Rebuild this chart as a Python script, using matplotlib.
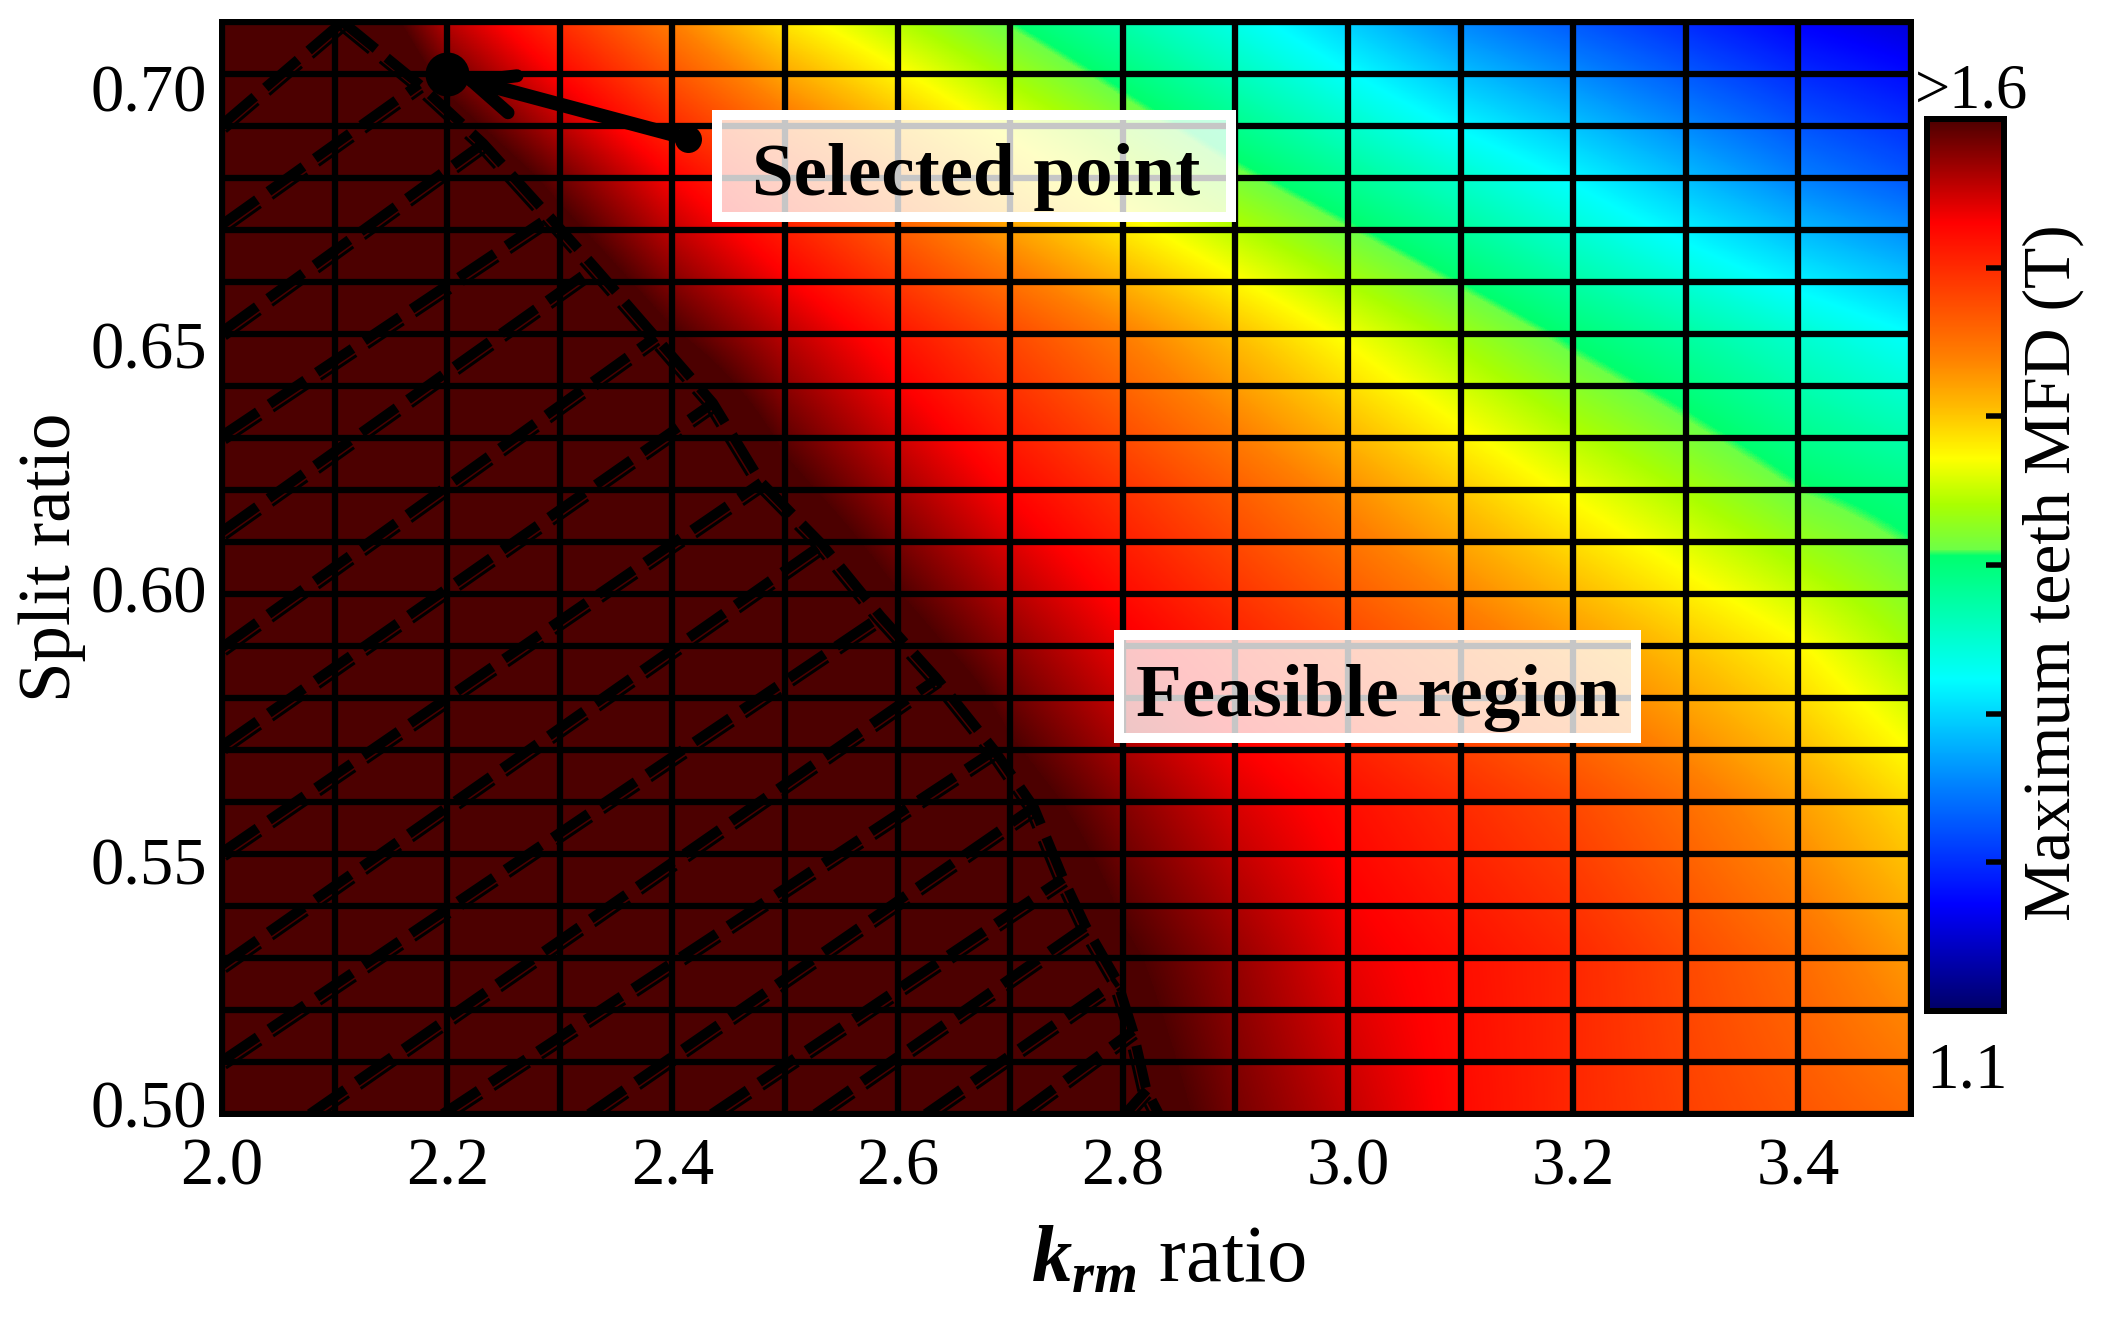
import numpy as np
import matplotlib
matplotlib.use("Agg")
import matplotlib.pyplot as plt
from matplotlib.colors import LinearSegmentedColormap
from matplotlib.patches import Rectangle
from matplotlib.transforms import offset_copy, ScaledTranslation

W, H = 2106, 1317
plt.rcParams['font.family'] = ['Liberation Serif', 'DejaVu Serif']
plt.rcParams['mathtext.fontset'] = 'custom'
plt.rcParams['mathtext.it'] = 'Liberation Serif:italic:bold'
plt.rcParams['mathtext.rm'] = 'Liberation Serif'
plt.rcParams['lines.scale_dashes'] = False

# ---- data ----
krm = [2.0, 2.1, 2.2, 2.3, 2.4, 2.5, 2.6, 2.7, 2.8, 2.9, 3.0, 3.1, 3.2, 3.3, 3.4, 3.5]
split = [0.71, 0.68, 0.65, 0.62, 0.59, 0.56, 0.53, 0.50]
mfd_071 = [1.775, 1.65, 1.565, 1.515, 1.4675, 1.42, 1.387, 1.3565, 1.3265, 1.296, 1.2635, 1.23, 1.206, 1.182, 1.1595, 1.145]
mfd_068 = [1.75, 1.70, 1.64, 1.59, 1.543, 1.505, 1.4665, 1.428, 1.3945, 1.364, 1.337, 1.3105, 1.284, 1.2555, 1.227, 1.205]
mfd_065 = [1.80, 1.75, 1.70, 1.65, 1.6025, 1.565, 1.5305, 1.4995, 1.4685, 1.4375, 1.407, 1.379, 1.352, 1.3305, 1.3085, 1.287]
mfd_062 = [1.85, 1.81, 1.77, 1.72, 1.675, 1.61, 1.573, 1.5405, 1.5135, 1.487, 1.4605, 1.4335, 1.4075, 1.3835, 1.359, 1.345]
mfd_059 = [1.90, 1.85, 1.80, 1.75, 1.70, 1.66, 1.615, 1.58, 1.549, 1.525, 1.5025, 1.4805, 1.458, 1.4355, 1.413, 1.3825]
mfd_056 = [1.95, 1.91, 1.875, 1.825, 1.775, 1.725, 1.675, 1.615, 1.5825, 1.555, 1.535, 1.5175, 1.50, 1.4775, 1.4525, 1.425]
mfd_053 = [2.0, 1.95, 1.90, 1.85, 1.80, 1.75, 1.70, 1.65, 1.605, 1.5775, 1.55, 1.535, 1.52, 1.50, 1.48, 1.455]
mfd_050 = [2.05, 2.0, 1.95, 1.90, 1.85, 1.80, 1.75, 1.70, 1.62, 1.5875, 1.5625, 1.5375, 1.52, 1.505, 1.4925, 1.48]

xticks = [2.0, 2.2, 2.4, 2.6, 2.8, 3.0, 3.2, 3.4]
yticks = [0.50, 0.55, 0.60, 0.65, 0.70]

# feasible-region boundary
bound_x = [2.107, 2.175, 2.232, 2.291, 2.331, 2.385, 2.436, 2.479, 2.533, 2.585, 2.635, 2.686, 2.721, 2.747, 2.767, 2.795, 2.809, 2.821, 2.832]
bound_y = [0.7100, 0.6980, 0.6866, 0.6725, 0.6628, 0.6494, 0.6367, 0.6214, 0.6095, 0.5957, 0.5837, 0.5699, 0.5590, 0.5453, 0.5361, 0.5256, 0.5160, 0.5046, 0.5000]
# hatch lines: start of each, running to one boundary vertex
hatch_x0 = [2.0, 2.0, 2.0, 2.0, 2.0, 2.0, 2.0, 2.0, 2.0, 2.0, 2.078, 2.196, 2.326, 2.435, 2.527, 2.625, 2.708, 2.802]
hatch_y0 = [0.6902, 0.6710, 0.6504, 0.6304, 0.6120, 0.5897, 0.5708, 0.5503, 0.5287, 0.5102, 0.5, 0.5, 0.5, 0.5, 0.5, 0.5, 0.5, 0.5]
hatch_end = [0, 1, 2, 3, 4, 5, 6, 7, 8, 9, 10, 11, 12, 13, 14, 15, 16, 17]

selected = (2.2, 0.70)
arrow_tail = (2.414, 0.6875)
arrow_tip = (2.222, 0.6986)
arrow_barb1 = (2.262, 0.6996)
arrow_barb2 = (2.254, 0.6925)

vmin, vmax = 1.1, 1.6
cmap_stops = [
    (0.000, '#000064'), (0.122, '#0000ff'), (0.254, '#0080ff'), (0.374, '#00ffff'),
    (0.513, '#00ff6e'), (0.520, '#6eff46'), (0.570, '#aaff00'), (0.622, '#ffff00'),
    (0.677, '#ffbe00'), (0.735, '#ff8000'), (0.886, '#ff0000'), (1.000, '#500000'),
]
# ------------------------------------

px = lambda v: v * 72 / 100


def rect_from_px(x0, y0, x1, y1):
    return [x0 / W, 1 - y1 / H, (x1 - x0) / W, (y1 - y0) / H]


fig = plt.figure(figsize=(W / 100, H / 100), dpi=100, facecolor='white')
ax = fig.add_axes(rect_from_px(222, 21.7, 1911, 1114))

cmap = LinearSegmentedColormap.from_list('mfd', cmap_stops, N=1024)
cmap.set_over('#4c0000')
Z = np.array([mfd_071, mfd_068, mfd_065, mfd_062, mfd_059, mfd_056, mfd_053, mfd_050])
dx = (krm[1] - krm[0]) / 2
dy = (split[0] - split[1]) / 2
im = ax.imshow(Z, origin='upper', aspect='auto', cmap=cmap, vmin=vmin, vmax=vmax,
               extent=[krm[0] - dx, krm[-1] + dx, split[-1] - dy, split[0] + dy],
               interpolation='bilinear', interpolation_stage='data', zorder=1)
ax.set_xlim(2.0, 3.5)
ax.set_ylim(0.50, 0.71)
ax.set_xticks(xticks)
ax.set_yticks(yticks)
ax.set_xticks(np.arange(20, 36) / 10, minor=True)
ax.set_yticks(np.arange(50, 72) / 100, minor=True)
ax.set_xticklabels([f'{t:.1f}' for t in xticks])
ax.set_yticklabels([f'{t:.2f}' for t in yticks])
ax.tick_params(which='both', length=0)
ax.tick_params(axis='x', which='major', labelsize=48, pad=17)
ax.tick_params(axis='y', which='major', labelsize=48, pad=11)
# the reference sets its y labels a little off their grid lines
ylabel_shift_px = [2.5, -14, -2, -18, -21]
for lab, s in zip(ax.get_yticklabels(), ylabel_shift_px):
    lab.set_va('center')
    lab.set_transform(lab.get_transform() + ScaledTranslation(0, s / 100, fig.dpi_scale_trans))
ax.set_axisbelow(False)
ax.grid(which='both', color='black', lw=px(6.3), zorder=2)
for s in ax.spines.values():
    s.set_linewidth(px(6))
    s.set_zorder(6)

# hatching with its thin companion line
dash = (0, (px(43), px(14)))
hatch_off = offset_copy(ax.transData, fig=fig, x=4, y=-7, units='dots')
bound_off = offset_copy(ax.transData, fig=fig, x=-7, y=-4, units='dots')
for x0, y0, i in zip(hatch_x0, hatch_y0, hatch_end):
    xs, ys = [x0, bound_x[i]], [y0, bound_y[i]]
    ax.plot(xs, ys, color='black', lw=px(10), ls=dash, dash_capstyle='butt', zorder=3)
    ax.plot(xs, ys, color='black', lw=px(3), ls=dash, dash_capstyle='butt', zorder=3, transform=hatch_off)
ax.plot(bound_x, bound_y, color='black', lw=px(10), ls=dash, dash_capstyle='butt', zorder=3)
ax.plot(bound_x, bound_y, color='black', lw=px(3), ls=dash, dash_capstyle='butt', zorder=3, transform=bound_off)

# annotation boxes
for (x0, y0, x1, y1) in [(717, 115, 1231, 217), (1119, 635, 1636, 738)]:
    r = Rectangle((x0 / W, 1 - y1 / H), (x1 - x0) / W, (y1 - y0) / H, transform=fig.transFigure,
                  facecolor=(1, 1, 1, 0.78), edgecolor='white', lw=px(10), clip_on=False, zorder=4)
    ax.add_patch(r)
fig.text(976 / W, 1 - 195 / H, 'Selected point', ha='center', va='baseline', fontsize=54,
         fontweight='bold', zorder=7)
fig.text(1378 / W, 1 - 716 / H, 'Feasible region', ha='center', va='baseline', fontsize=54,
         fontweight='bold', zorder=7)

# selected point and arrow
ax.plot(*zip(selected), 'o', color='black', ms=px(44), mew=0, zorder=5)
ax.plot(*zip(arrow_tail), 'o', color='black', ms=px(27), mew=0, zorder=5)
ax.plot(*zip(arrow_tail, arrow_tip), color='black', lw=px(14), solid_capstyle='butt', zorder=5)
ax.plot(*zip(arrow_tip, arrow_barb1), color='black', lw=px(13), solid_capstyle='round', zorder=5)
ax.plot(*zip(arrow_tip, arrow_barb2), color='black', lw=px(13), solid_capstyle='round', zorder=5)

# colour bar
cax = fig.add_axes(rect_from_px(1927, 119, 2004, 1011))
cb = fig.colorbar(im, cax=cax)
cb.set_ticks(list(np.linspace(vmin, vmax, 7)[1:-1]))
cb.set_ticklabels([])
cax.tick_params(direction='in', length=px(18), width=px(5.5), right=True, left=False, color='black')
cb.outline.set_linewidth(px(6))
cb.outline.set_edgecolor('black')
cb.solids.set_edgecolor('face')
cax.set_zorder(3)

fig.text(1971 / W, 1 - 107 / H, '>1.6', ha='center', va='baseline', fontsize=45)
fig.text(1967 / W, 1 - 1087 / H, '1.1', ha='center', va='baseline', fontsize=47)
fig.text(2053 / W, 1 - 573 / H, 'Maximum teeth MFD (T)', rotation=90, ha='center', va='center', fontsize=48.7)
fig.text(52 / W, 1 - 557 / H, 'Split ratio', rotation=90, ha='center', va='center', fontsize=52.5)
fig.text(1168 / W, 1 - 1282 / H, r'$k_{rm}$ ratio', ha='center', va='baseline', fontsize=58)

fig.savefig('out.png', dpi=100, facecolor='white')
